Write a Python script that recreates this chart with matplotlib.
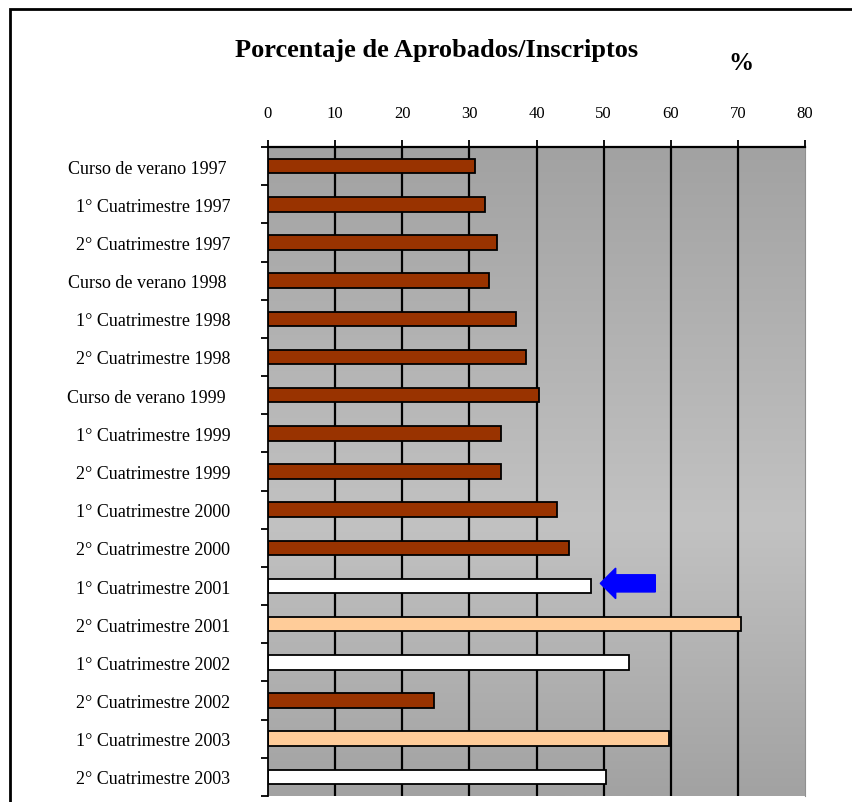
import numpy as np
import matplotlib
matplotlib.use('Agg')
from matplotlib import pyplot as plt
from matplotlib.patches import Rectangle, FancyArrow
from matplotlib.colors import LinearSegmentedColormap

periodos = [
    "Curso de verano 1997 ", "1° Cuatrimestre 1997", "2° Cuatrimestre 1997",
    "Curso de verano 1998 ", "1° Cuatrimestre 1998", "2° Cuatrimestre 1998",
    "Curso de verano 1999 ", "1° Cuatrimestre 1999", "2° Cuatrimestre 1999",
    "1° Cuatrimestre 2000", "2° Cuatrimestre 2000", "1° Cuatrimestre 2001",
    "2° Cuatrimestre 2001", "1° Cuatrimestre 2002", "2° Cuatrimestre 2002",
    "1° Cuatrimestre 2003", "2° Cuatrimestre 2003",
]
porcentajes = [30.8, 32.3, 34.1, 32.9, 37.0, 38.5, 40.3, 34.7, 34.7,
               43.0, 44.8, 48.1, 70.4, 53.8, 24.8, 59.8, 50.4]
colores = ['#993300'] * 11 + ['#FFFFFF', '#FFCC99', '#FFFFFF', '#993300',
                              '#FFCC99', '#FFFFFF']
ticks_x = [0, 10, 20, 30, 40, 50, 60, 70, 80]

# flecha que marca el 1° Cuatrimestre 2001
flecha_fila = 11
flecha_desde = 57.7
flecha_hasta = 49.5


def main():
    plt.rcParams['font.family'] = ['Liberation Serif', 'DejaVu Serif']

    fig = plt.figure(figsize=(8.52, 8.03), dpi=100)
    fig.patches.append(Rectangle((10 / 852, -0.1), 1.2, 1 - 10 / 803 + 0.1,
                                 transform=fig.transFigure, fill=False,
                                 edgecolor='black', linewidth=2))

    ax = fig.add_axes([268 / 852, 6 / 803, 537 / 852, 649 / 803])
    n = len(periodos)
    y = np.arange(n)

    # fondo gris degradado (oscuro arriba y abajo, claro al medio)
    cmap = LinearSegmentedColormap.from_list(
        'fondo', [(0, '#A2A2A2'), (0.58, '#C2C2C2'), (1, '#A2A2A2')])
    ax.imshow(np.linspace(0, 1, 256).reshape(-1, 1), cmap=cmap, aspect='auto',
              extent=[0, 80, n - 0.5, -0.5], zorder=0)

    for x in ticks_x[1:-1]:
        ax.axvline(x, color='black', linewidth=1.6, zorder=1)

    ax.barh(y, porcentajes, height=0.38, color=colores, edgecolor='black',
            linewidth=1.3, zorder=2)

    ax.add_patch(FancyArrow(flecha_desde, flecha_fila - 0.07,
                            flecha_hasta - flecha_desde, 0, width=0.45,
                            head_width=0.8, head_length=2.3,
                            length_includes_head=True, color='#0000FF',
                            zorder=3))

    ax.set_xlim(0, 80)
    ax.set_ylim(n - 0.5, -0.5)

    ax.xaxis.tick_top()
    ax.set_xticks(ticks_x)
    ax.set_xticklabels([str(t) for t in ticks_x], fontsize=12)
    ax.tick_params(axis='x', direction='out', length=5, width=1.3, pad=14)

    ax.set_yticks(y)
    ax.set_yticklabels(periodos, fontsize=13)
    ax.set_yticks(np.arange(n + 1) - 0.5, minor=True)
    ax.tick_params(axis='y', which='major', length=0, pad=27)
    ax.tick_params(axis='y', which='minor', direction='out', length=5,
                   width=1.3)

    ax.spines['top'].set_linewidth(1.6)
    ax.spines['left'].set_linewidth(1.3)
    ax.spines['right'].set_color('#909090')
    ax.spines['bottom'].set_visible(False)

    fig.text(437 / 852, 1 - 50 / 803, "Porcentaje de Aprobados/Inscriptos",
             ha='center', va='center', fontsize=19, fontweight='bold')
    fig.text(741 / 852, 1 - 63 / 803, "%", ha='center', va='center',
             fontsize=18, fontweight='bold')

    fig.savefig('out.png', dpi=100)


if __name__ == '__main__':
    main()
